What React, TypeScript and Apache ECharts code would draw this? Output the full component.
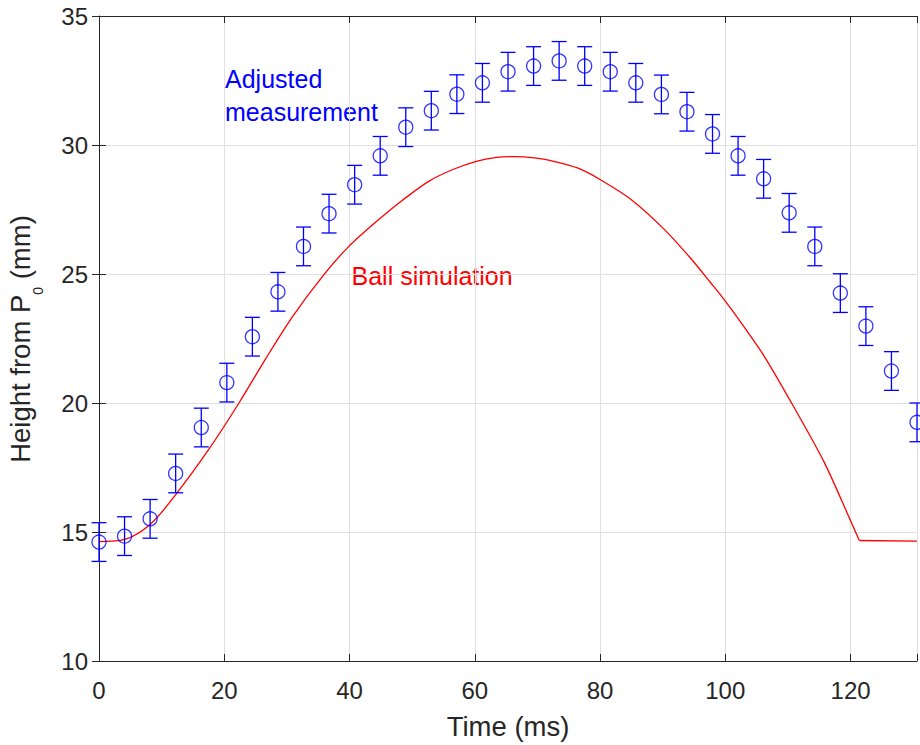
import React, { useEffect, useRef } from 'react';
import * as echarts from 'echarts';

// Measured (adjusted) heights, ms and mm
const measTimes = [
  0, 4.08, 8.16, 12.24, 16.33, 20.41, 24.49, 28.57, 32.65, 36.73, 40.82,
  44.9, 48.98, 53.06, 57.14, 61.22, 65.31, 69.39, 73.47, 77.55, 81.63,
  85.71, 89.8, 93.88, 97.96, 102.04, 106.12, 110.2, 114.29, 118.37, 122.45,
  126.53, 130.61,
];
const measHeights = [
  14.61, 14.84, 15.51, 17.27, 19.05, 20.79, 22.57, 24.31, 26.07, 27.34, 28.46,
  29.58, 30.69, 31.33, 31.97, 32.41, 32.84, 33.06, 33.26, 33.06, 32.84,
  32.41, 31.96, 31.29, 30.43, 29.58, 28.69, 27.37, 26.07, 24.26, 22.98,
  21.24, 19.25,
];
const measErrors = [
  0.75, 0.75, 0.75, 0.75, 0.75, 0.75, 0.75, 0.75, 0.75, 0.75, 0.75,
  0.75, 0.75, 0.75, 0.75, 0.75, 0.75, 0.75, 0.75, 0.75, 0.75,
  0.75, 0.75, 0.75, 0.75, 0.75, 0.75, 0.75, 0.75, 0.75, 0.75,
  0.75, 0.75,
];

// Ball simulation: flight phase (smooth curve)
const simTimes = [
  0, 4.1, 8.2, 12.25, 17.66, 22.4, 26.7, 30.9, 35.7, 39.9, 45.2, 48.4, 52.7,
  56.5, 60.1, 63.5, 66.4, 69.5, 72.8, 76.5, 79.8, 85.0, 90.3, 94.5, 97.7,
  100.0, 103.0, 106.2, 110.7, 115.8, 120.0, 121.4,
];
const simHeights = [
  14.63, 14.71, 15.3, 16.45, 18.25, 20.02, 21.75, 23.35, 24.91, 26.07, 27.22,
  27.85, 28.6, 29.05, 29.36, 29.52, 29.55, 29.5, 29.36, 29.1, 28.69, 27.88,
  26.72, 25.6, 24.65, 23.95, 22.95, 21.82, 19.95, 17.7, 15.44, 14.67,
];
// Ball simulation: resting phase
const restTimes = [121.4, 130.61];
const restHeights = [14.67, 14.65];

const X_MIN = 0;
const X_MAX = 130.61;
const X_STEP = 20;
const Y_MIN = 10;
const Y_MAX = 35;
const Y_STEP = 5;

const FONT = 'Liberation Sans, Arial, Helvetica, sans-serif';
const AXIS_COLOR = '#262626';
const GRID_COLOR = '#e0e0e0';
const BLUE = '#0000ff';
const RED = '#ff0000';

export default function App() {
  const ref = useRef<HTMLDivElement>(null);

  useEffect(() => {
    if (!ref.current) return;
    const chart = echarts.init(ref.current, undefined, { renderer: 'svg' });

    const tickCommon = { show: true, inside: true, length: 7, lineStyle: { color: AXIS_COLOR, width: 1 } };
    const lineCommon = { show: true, lineStyle: { color: AXIS_COLOR, width: 1 } };

    const option: any = {
      animation: false,
      backgroundColor: '#ffffff',
      grid: { left: 99, right: 0, top: 16, bottom: 82.5, containLabel: false },
      xAxis: [
        {
          type: 'value',
          min: X_MIN,
          max: X_MAX,
          interval: X_STEP,
          position: 'bottom',
          axisLine: lineCommon,
          axisTick: tickCommon,
          axisLabel: {
            show: true,
            fontSize: 24,
            fontFamily: FONT,
            color: AXIS_COLOR,
            margin: 17,
            formatter: (v: number) => (Math.abs(v % X_STEP) < 1e-6 ? String(v) : ''),
          },
          splitLine: { show: true, lineStyle: { color: GRID_COLOR, width: 1 } },
          name: 'Time (ms)',
          nameLocation: 'middle',
          nameGap: 51,
          nameTextStyle: { fontSize: 27.5, fontFamily: FONT, color: AXIS_COLOR },
        },
        {
          type: 'value',
          min: X_MIN,
          max: X_MAX,
          interval: X_STEP,
          position: 'top',
          axisLine: lineCommon,
          axisTick: tickCommon,
          axisLabel: { show: false },
          splitLine: { show: false },
        },
      ],
      yAxis: [
        {
          type: 'value',
          min: Y_MIN,
          max: Y_MAX,
          interval: Y_STEP,
          position: 'left',
          axisLine: lineCommon,
          axisTick: tickCommon,
          axisLabel: {
            show: true,
            fontSize: 24,
            fontFamily: FONT,
            color: AXIS_COLOR,
            margin: 11,
          },
          splitLine: { show: true, lineStyle: { color: GRID_COLOR, width: 1 } },
        },
        {
          type: 'value',
          min: Y_MIN,
          max: Y_MAX,
          interval: Y_STEP,
          position: 'right',
          axisLine: { show: false },
          axisTick: tickCommon,
          axisLabel: { show: false },
          splitLine: { show: false },
        },
      ],
      series: [
        {
          type: 'line',
          name: 'Ball simulation',
          data: simTimes.map((t, i) => [t, simHeights[i]]),
          showSymbol: false,
          symbol: 'none',
          smooth: 0.3,
          lineStyle: { color: RED, width: 1.3 },
          silent: true,
          z: 2,
        },
        {
          type: 'line',
          name: 'Ball resting',
          data: restTimes.map((t, i) => [t, restHeights[i]]),
          showSymbol: false,
          symbol: 'none',
          lineStyle: { color: RED, width: 1.3 },
          silent: true,
          z: 2,
        },
        {
          type: 'custom',
          name: 'errors',
          data: measTimes.map((t, i) => [t, measHeights[i], measErrors[i]]),
          encode: { x: 0, y: 1 },
          clip: false,
          silent: true,
          z: 3,
          renderItem: (params: any, api: any) => {
            const x = api.value(0);
            const y = api.value(1);
            const e = api.value(2);
            const top = api.coord([x, y + e]);
            const bot = api.coord([x, y - e]);
            const hw = 7.5;
            const style = { stroke: BLUE, lineWidth: 1.3, fill: 'none' };
            return {
              type: 'group',
              children: [
                { type: 'line', shape: { x1: top[0], y1: top[1], x2: bot[0], y2: bot[1] }, style },
                { type: 'line', shape: { x1: top[0] - hw, y1: top[1], x2: top[0] + hw, y2: top[1] }, style },
                { type: 'line', shape: { x1: bot[0] - hw, y1: bot[1], x2: bot[0] + hw, y2: bot[1] }, style },
              ],
            };
          },
        },
        {
          type: 'scatter',
          name: 'Adjusted measurement',
          data: measTimes.map((t, i) => [t, measHeights[i]]),
          symbol: 'circle',
          symbolSize: 14,
          clip: false,
          silent: true,
          itemStyle: { color: 'rgba(0,0,0,0)', borderColor: BLUE, borderWidth: 1.3 },
          z: 4,
        },
      ],
      graphic: [
        {
          type: 'text',
          x: 20.5,
          y: 339,
          rotation: Math.PI / 2,
          silent: true,
          style: {
            text: 'Height from P{s|0} (mm)',
            fontSize: 27.5,
            fontFamily: FONT,
            fill: AXIS_COLOR,
            align: 'center',
            verticalAlign: 'middle',
            rich: {
              s: { fontSize: 14, fontFamily: FONT, fill: AXIS_COLOR, padding: [34, 0, 0, 0] },
            },
          },
        },
        {
          type: 'text',
          x: 225,
          y: 62,
          silent: true,
          style: {
            text: 'Adjusted\nmeasurement',
            fontSize: 25,
            fontFamily: FONT,
            fill: BLUE,
            align: 'left',
            verticalAlign: 'top',
            lineHeight: 33,
          },
        },
        {
          type: 'text',
          x: 351.5,
          y: 276,
          silent: true,
          style: {
            text: 'Ball simulation',
            fontSize: 25,
            fontFamily: FONT,
            fill: RED,
            align: 'left',
            verticalAlign: 'middle',
          },
        },
      ],
    };

    chart.setOption(option);
    return () => {
      chart.dispose();
    };
  }, []);

  return (
    <div
      ref={ref}
      style={{ position: 'absolute', left: 0, top: 0, width: 920, height: 745 }}
    />
  );
}
